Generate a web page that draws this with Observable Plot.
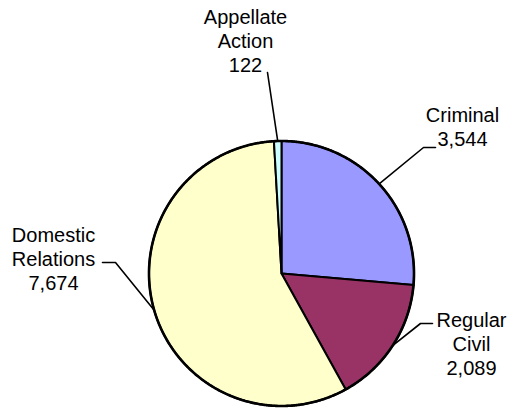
<!DOCTYPE html>
<html>
<head>
<meta charset="utf-8">
<script src="https://cdn.jsdelivr.net/npm/d3@7"></script>
<script src="https://cdn.jsdelivr.net/npm/@observablehq/plot@0.6"></script>
<style>
  html, body { margin: 0; padding: 0; background: #ffffff; }
  #chart svg { display: block; }
</style>
</head>
<body>
<div id="chart"></div>
<script>
// ---- data ----
const categories = ["Criminal", "Regular Civil", "Domestic Relations", "Appellate Action"];
const values = [3544, 2089, 7674, 122];
const labelNames = [["Criminal"], ["Regular", "Civil"], ["Domestic", "Relations"], ["Appellate", "Action"]];
const colors = ["#9999FF", "#993366", "#FFFFCC", "#CCFFFF"];

// ---- layout (pixels) ----
const W = 512, H = 410;
const CX = 281, CY = 273, R = 132.5;
// label block centre and leader elbow/end points, in pixels
const labelCentre = [[462, 126], [471, 343], [53, 258], [245, 40]];
const leaderElbow = [[[423, 147], [435, 147]], [[420, 323], [432, 323]], [[115, 262], [102, 262]], [[267, 72]]];

const ux = px => (px - CX) / R;
const uy = py => (CY - py) / R;

const total = d3.sum(values);
const fmt = d3.format(",");

// slices: start at 12 o'clock, clockwise
let acc = 0;
const slices = categories.map((c, i) => {
  const a0 = acc / total * 2 * Math.PI;
  acc += values[i];
  const a1 = acc / total * 2 * Math.PI;
  const pts = [{x: 0, y: 0}];
  const n = Math.max(2, Math.ceil((a1 - a0) / (Math.PI / 360)));
  for (let k = 0; k <= n; k++) {
    const a = a0 + (a1 - a0) * k / n;
    pts.push({x: Math.sin(a), y: Math.cos(a)});
  }
  pts.push({x: 0, y: 0});
  return {category: c, value: values[i], a0, a1, mid: (a0 + a1) / 2, pts, color: colors[i]};
});

const leaders = slices.map((s, i) => {
  const pts = [{x: Math.sin(s.mid), y: Math.cos(s.mid)}];
  leaderElbow[i].forEach(([px, py]) => pts.push({x: ux(px), y: uy(py)}));
  return pts;
});

const labels = slices.map((s, i) => ({
  x: ux(labelCentre[i][0]),
  y: uy(labelCentre[i][1]),
  text: [...labelNames[i], fmt(s.value)].join("\n")
}));

const marks = [];
slices.forEach(s => {
  marks.push(Plot.line(s.pts, {x: "x", y: "y", fill: s.color, stroke: "#000", strokeWidth: 2, strokeLinejoin: "round", curve: "linear"}));
});
// outer rim slightly heavier, as in the reference
marks.push(Plot.line(slices.flatMap(s => s.pts.slice(1, -1)), {x: "x", y: "y", stroke: "#000", strokeWidth: 2.6, fill: "none"}));
leaders.forEach(l => {
  marks.push(Plot.line(l, {x: "x", y: "y", stroke: "#000", strokeWidth: 1.6}));
});
marks.push(Plot.text(labels, {
  x: "x", y: "y", text: "text",
  fontSize: 20, lineHeight: 1.18, lineAnchor: "middle", textAnchor: "middle",
  fill: "#000", fontFamily: "'Liberation Sans', Arial, sans-serif"
}));

const chart = Plot.plot({
  width: W, height: H,
  margin: 0,
  x: {domain: [ux(0), ux(W)], range: [0, W], axis: null},
  y: {domain: [uy(H), uy(0)], range: [H, 0], axis: null},
  style: {background: "#ffffff"},
  marks
});
document.getElementById("chart").appendChild(chart);
</script>
</body>
</html>
